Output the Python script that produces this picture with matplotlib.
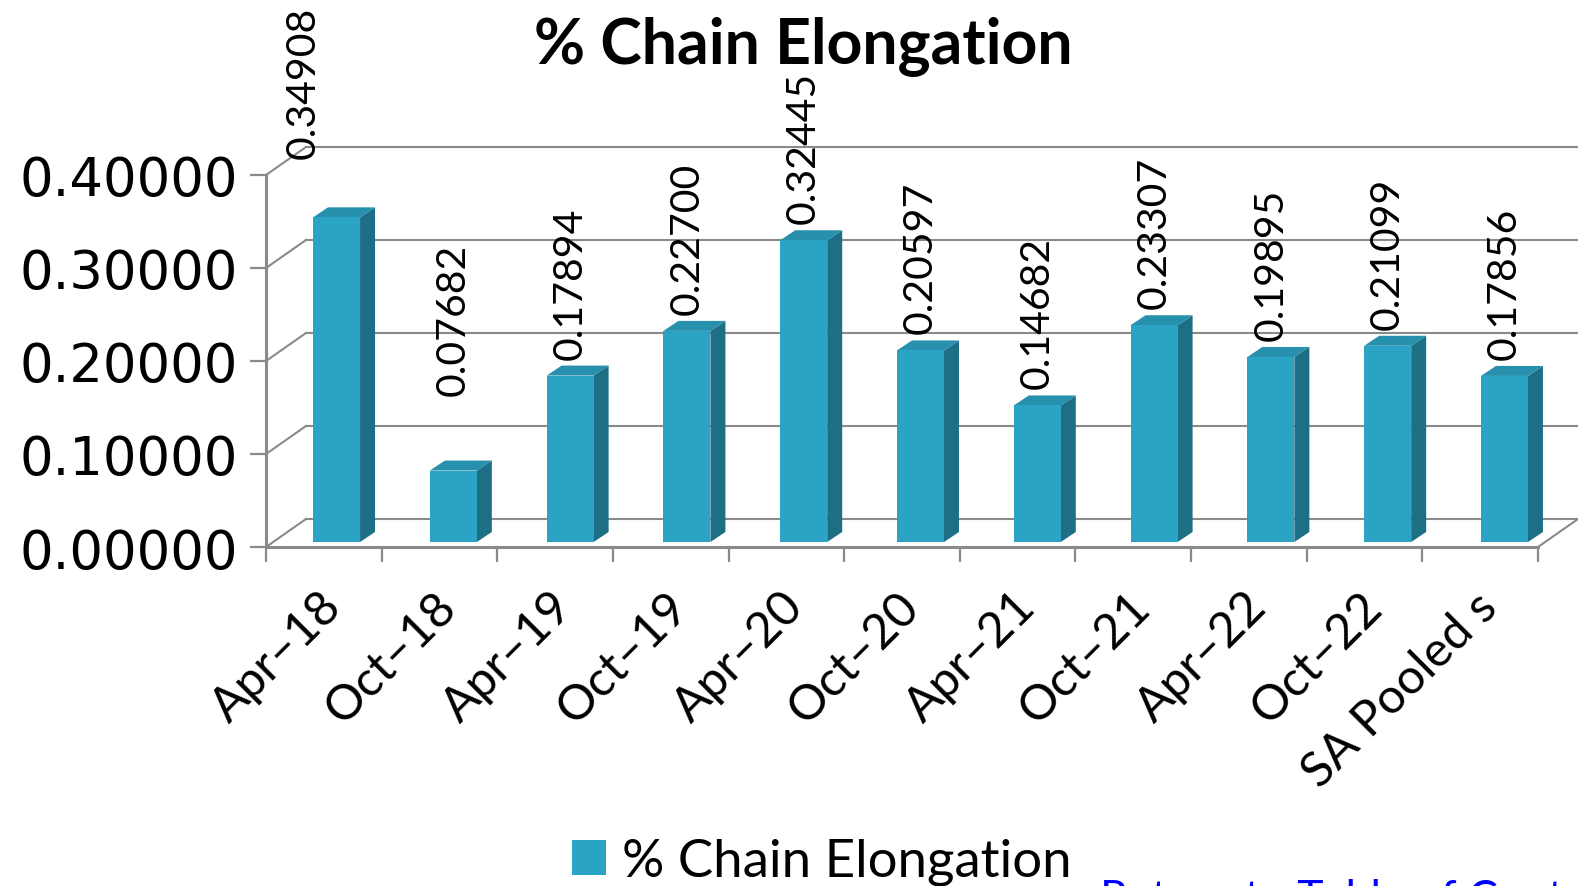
import numpy as np
import matplotlib
matplotlib.use("Agg")
import matplotlib.pyplot as plt
from matplotlib.patches import Polygon, Rectangle

plt.rcParams['font.family'] = ['Lato', 'DejaVu Sans']

# data
categories = ['Apr–18', 'Oct–18', 'Apr–19', 'Oct–19', 'Apr–20', 'Oct–20',
              'Apr–21', 'Oct–21', 'Apr–22', 'Oct–22', 'SA Pooled s']
values = [0.34908, 0.07682, 0.17894, 0.22700, 0.32445, 0.20597,
          0.14682, 0.23307, 0.19895, 0.21099, 0.17856]
yticks = [0.0, 0.1, 0.2, 0.3, 0.4]

front = '#2aa3c5'
side = '#1d6f86'
top = '#2790ad'
grid = '#8a8a8a'

W, H = 1578, 887
fig = plt.figure(figsize=(W / 100, H / 100), dpi=100)
# front plane of the 3d box: x -0.5..10.5 -> px 266..1538, y 0..0.4 -> px 548..176
ax = fig.add_axes([266 / W, (H - 548) / H, 1272 / W, 372 / H])
ax.set_xlim(-0.5, 10.5)
ax.set_ylim(0, 0.4)
px_x = 11 / 1272          # data units per pixel, horizontal
px_y = 0.4 / 372          # data units per pixel, vertical

# depth offsets
wall_dx, wall_dy = 40 * px_x, 28 * px_y
side_dx, side_dy = 15 * px_x, 10 * px_y
base = 5 * px_y
bar_w = 47 * px_x

for s in ['top', 'right']:
    ax.spines[s].set_visible(False)
for s in ['left', 'bottom']:
    ax.spines[s].set_color(grid)
    ax.spines[s].set_linewidth(2.2)
ax.spines['left'].set_zorder(0.5)

ax.set_yticks(yticks)
ax.set_yticklabels(['%.5f' % t for t in yticks], fontsize=38,
                   family='DejaVu Sans')
ax.tick_params(axis='y', length=11.5, width=1.6, color=grid, pad=9)
ax.set_xticks(np.arange(-0.5, 11, 1.0))
ax.set_xticklabels([])
ax.tick_params(axis='x', length=11, width=1.6, color=grid)

# back wall gridlines and the left wall diagonals
for t in yticks:
    ax.plot([-0.5 + wall_dx, 12], [t + wall_dy] * 2, color=grid, lw=1.5,
            clip_on=False, zorder=0.2)
    ax.plot([-0.5, -0.5 + wall_dx], [t, t + wall_dy], color=grid, lw=1.5,
            clip_on=False, zorder=0.2)
ax.plot([10.5, 10.5 + wall_dx], [0, wall_dy], color=grid, lw=1.5,
        clip_on=False, zorder=0.2)

# 3d-looking bars
lifts = [42, 59, 0, 0, 0, 0, 0, 0, 0, 0, 0]
shifts = [-33, 0, 0, 0, 0, 0, 0, 0, 0, 0, 0]
for i, v in enumerate(values):
    cx = i * 1.01 + 0.11
    x0, x1 = cx - bar_w / 2, cx + bar_w / 2
    y0, y1 = base, v + base
    ax.add_patch(Polygon([(x1, y0), (x1 + side_dx, y0 + side_dy),
                          (x1 + side_dx, y1 + side_dy), (x1, y1)],
                         closed=True, fc=side, ec='none', zorder=2, clip_on=False))
    ax.add_patch(Polygon([(x0, y1), (x0 + side_dx, y1 + side_dy),
                          (x1 + side_dx, y1 + side_dy), (x1, y1)],
                         closed=True, fc=top, ec='none', zorder=2, clip_on=False))
    ax.add_patch(Rectangle((x0, y0), bar_w, v, fc=front, ec='none', zorder=3,
                           clip_on=False,
                           label='% Chain Elongation' if i == 0 else None))
    ax.annotate('%.5f' % v, (cx, y1 + side_dy),
                xytext=(shifts[i] * 0.72, (7 + lifts[i]) * 0.72),
                textcoords='offset points', rotation=90, ha='center',
                va='bottom', fontsize=29.5, annotation_clip=False, zorder=4)

# category labels
for i, c in enumerate(categories):
    ax.annotate(c, (i, 0), xytext=(10 * 0.72, -52 * 0.72),
                textcoords='offset points', rotation=45,
                rotation_mode='anchor', ha='right', va='center',
                fontsize=35, annotation_clip=False)

fig.text(803 / W, 1 - 63 / H, '% Chain Elongation', ha='center',
         va='baseline', fontsize=45, fontweight='bold')

ax.legend(loc='lower center', bbox_to_anchor=(822 / W, -0.029),
          bbox_transform=fig.transFigure, frameon=False, fontsize=38,
          handlelength=0.65, handleheight=0.65, handletextpad=0.3,
          borderpad=0)

fig.text(1100 / W, 1 - 879 / H, 'Return to Table of Contents', ha='left',
         va='top', fontsize=32, color='#0000ff')

fig.savefig('out.png', dpi=100)
